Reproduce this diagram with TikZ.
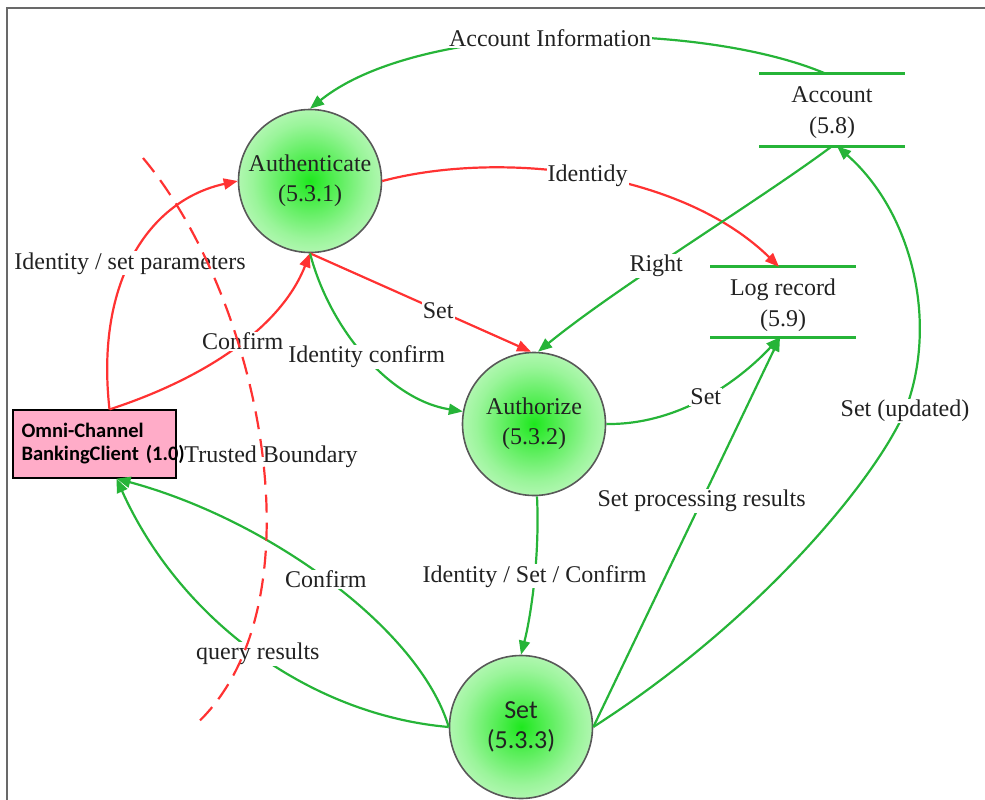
\documentclass[tikz,border=0pt]{standalone}
\usepackage{fontspec}
\setmainfont{Liberation Serif}
\newfontfamily\calibfont{Carlito}
\usetikzlibrary{arrows.meta}

\definecolor{flowgreen}{RGB}{38,180,56}
\definecolor{flowred}{RGB}{255,50,50}
\definecolor{inkgray}{RGB}{34,34,34}
\definecolor{rimgray}{RGB}{88,88,88}
\definecolor{glowgreen}{RGB}{30,232,30}
\definecolor{clientpink}{RGB}{255,172,200}
\definecolor{framegray}{RGB}{105,105,105}

\pgfdeclareradialshading{procglow}{\pgfpoint{0bp}{0bp}}{%
  color(0bp)=(glowgreen);
  color(7bp)=(glowgreen!80!white);
  color(20bp)=(glowgreen!45!white);
  color(34bp)=(glowgreen!18!white);
  color(50bp)=(glowgreen!3!white)}

\tikzset{
  process/.style={circle, draw=rimgray, line width=1.6pt, minimum size=143pt,
    inner sep=0pt, shading=procglow, text=inkgray, align=center,
    font=\fontsize{24}{30}\selectfont},
  store/.style={minimum width=145pt, minimum height=72pt, inner sep=0pt,
    align=center, text=inkgray, font=\fontsize{24}{31}\selectfont},
  storeline/.style={flowgreen, line width=3pt},
  client/.style={draw=black, line width=1.2pt, fill=clientpink,
    minimum width=163pt, minimum height=68pt, inner sep=0pt,
    text width=146pt, align=left, text=black,
    font=\calibfont\bfseries\fontsize{20.5}{23}\selectfont},
  gflow/.style={flowgreen, line width=2.2pt, -{Triangle[length=14pt,width=11pt]}},
  rflow/.style={flowred, line width=2.2pt, -{Triangle[length=14pt,width=11pt]}},
  lbl/.style={fill=white, inner sep=1pt, text=inkgray,
    font=\fontsize{24}{26}\selectfont},
  boundary/.style={flowred, line width=2.2pt, dash pattern=on 18pt off 10pt},
}

\begin{document}
\begin{tikzpicture}[x=1pt, y=-1pt]
\useasboundingbox (0,0) rectangle (985,800);
\clip (0,0) rectangle (985,800);

% frame
\draw[framegray, line width=1.8pt] (7,800) -- (7,8) -- (985,8);

% external entity and trust boundary caption
\node[lbl] (tb) at (271,457) {Trusted Boundary};
\node[client] (client) at (94.5,444) {Omni-Channel\\BankingClient~(1.0)};

% processes
\node[process] (auth)  at (310,181) {Authenticate\\(5.3.1)};
\node[process] (authz) at (534,424) {Authorize\\(5.3.2)};
\node[process, font=\calibfont\fontsize{26}{30}\selectfont] (setp) at (521,727) {Set\\(5.3.3)};

% data stores
\node[store] (acc)  at (832,113) {Account\\(5.8)};
\draw[storeline] ([yshift=3pt]acc.north west) -- ([yshift=3pt]acc.north east);
\draw[storeline] ([yshift=3pt]acc.south west) -- ([yshift=3pt]acc.south east);
\node[store, minimum height=70pt] (logr) at (783,305) {Log record\\(5.9)};
\draw[storeline] ([yshift=3pt]logr.north west) -- ([yshift=3pt]logr.north east);
\draw[storeline] ([yshift=3pt]logr.south west) -- ([yshift=3pt]logr.south east);

% flows
\draw[gflow] ([shift={(-6pt,3pt)}]acc.north) .. controls (700,20) and (420,20) .. (auth.north)
  node[lbl, pos=0.52] {Account Information};
\draw[rflow] (auth.east) .. controls (500,150) and (680,170) .. ([shift={(-4pt,3pt)}]logr.north)
  node[lbl, pos=0.5] {Identidy};
\draw[rflow] (auth.south) -- ([xshift=-3pt]authz.north)
  node[lbl, pos=0.58] {Set};
\draw[gflow] ([yshift=3pt]acc.south) .. controls (760,200) and (620,285) .. ([xshift=4pt]authz.north)
  node[lbl, pos=0.6] {Right};
\draw[rflow] ([xshift=15pt]client.north) .. controls (95,280) and (150,200) .. (auth.west)
  node[lbl, pos=0.46] {Identity / set parameters};
\draw[rflow] ([xshift=15pt]client.north) .. controls (200,380) and (280,330) .. (auth.south)
  node[lbl, pos=0.55] {Confirm};
\draw[gflow] (auth.south) .. controls (330,330) and (390,400) .. (authz.170)
  node[lbl, pos=0.5] {Identity confirm};
\draw[gflow] ([xshift=3pt]authz.south) .. controls (540,560) and (530,620) .. (setp.north)
  node[lbl, pos=0.44] {Identity / Set / Confirm};
\draw[gflow] (authz.east) .. controls (680,425) and (740,380) .. ([shift={(-3pt,3pt)}]logr.south)
  node[lbl, pos=0.5] {Set};
\draw[gflow] (setp.east) -- ([shift={(-3pt,3pt)}]logr.south)
  node[lbl, pos=0.58] {Set processing results};
\draw[gflow] (setp.east) .. controls (760,620) and (875,480) .. (905,411)
  node[lbl] {Set (updated)}
  .. controls (940,320) and (910,210) .. ([shift={(5pt,3pt)}]acc.south);
\draw[gflow] (setp.west) .. controls (420,630) and (270,520) .. ([xshift=22pt]client.south)
  node[lbl, pos=0.51] {Confirm};
\draw[gflow] (setp.west) .. controls (310,715) and (180,620) .. ([xshift=22pt]client.south)
  node[lbl, pos=0.49] {query results};

% trust boundary
\draw[boundary] (143,158) .. controls (262,300) and (325,610) .. (193,727);
\end{tikzpicture}
\end{document}
